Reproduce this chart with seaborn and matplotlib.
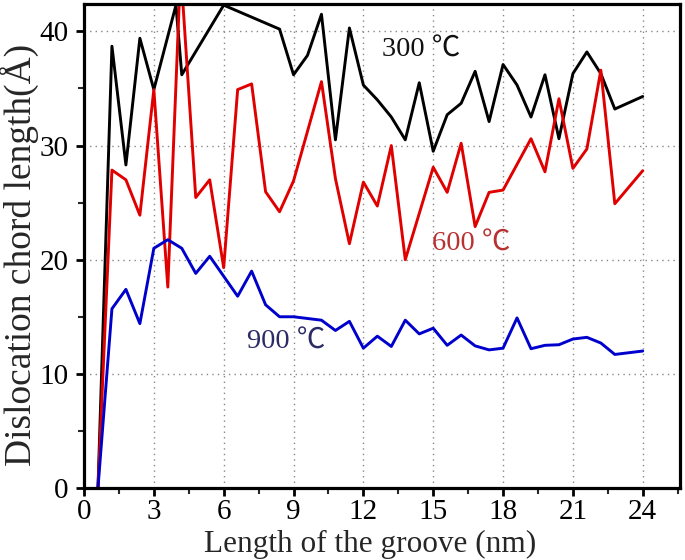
import matplotlib
matplotlib.use("Agg")
import matplotlib.pyplot as plt
import seaborn as sns
from matplotlib.ticker import MultipleLocator

# ---- data ----
x_300 = [0.6, 1.2, 1.8, 2.4, 3.0, 3.95, 4.2, 6.0, 8.4, 9.0, 9.6, 10.2, 10.8, 11.4,
         12.0, 12.6, 13.2, 13.8, 14.4, 15.0, 15.6, 16.2, 16.8, 17.4, 18.0, 18.6,
         19.2, 19.8, 20.4, 21.0, 21.6, 22.2, 22.8, 24.0]
y_300 = [0.0, 38.7, 28.3, 39.4, 34.9, 42.3, 36.2, 42.3, 40.2, 36.2, 37.9, 41.5, 30.5, 40.3,
         35.3, 34.0, 32.5, 30.5, 35.5, 29.5, 32.7, 33.7, 36.5, 32.1, 37.1, 35.3,
         32.5, 36.2, 30.6, 36.3, 38.2, 36.3, 33.2, 34.3]

x_600 = [0.6, 1.2, 1.8, 2.4, 3.0, 3.6, 4.15, 4.8, 5.4, 6.0, 6.6, 7.2, 7.8, 8.4, 9.0,
         10.2, 10.8, 11.4, 12.0, 12.6, 13.2, 13.8, 15.0, 15.6, 16.2, 16.8, 17.4,
         18.0, 19.2, 19.8, 20.4, 21.0, 21.6, 22.2, 22.8, 24.0]
y_600 = [0.0, 27.85, 27.0, 23.9, 34.9, 17.6, 45.5, 25.45, 27.0, 19.3, 34.9, 35.4, 25.95, 24.2, 26.9,
         35.6, 27.1, 21.4, 26.8, 24.7, 30.0, 20.0, 28.1, 25.9, 30.2, 22.9, 25.9,
         26.1, 30.6, 27.7, 34.1, 28.0, 29.7, 36.6, 24.9, 27.8]

x_900 = [0.6, 1.2, 1.8, 2.4, 3.0, 3.6, 4.2, 4.8, 5.4, 6.6, 7.2, 7.8, 8.4, 9.0,
         10.2, 10.8, 11.4, 12.0, 12.6, 13.2, 13.8, 14.4, 15.0, 15.6, 16.2, 16.8,
         17.4, 18.0, 18.6, 19.2, 19.8, 20.4, 21.0, 21.6, 22.2, 22.8, 24.0]
y_900 = [0.0, 15.7, 17.4, 14.4, 21.0, 21.75, 21.0, 18.8, 20.3, 16.8, 19.0, 16.05, 15.0, 15.0,
         14.7, 13.8, 14.6, 12.25, 13.3, 12.4, 14.7, 13.5, 14.0, 12.5, 13.4, 12.45,
         12.1, 12.25, 14.9, 12.2, 12.5, 12.55, 13.05, 13.2, 12.7, 11.7, 12.0]

x_ticks = [0, 3, 6, 9, 12, 15, 18, 21, 24]
y_ticks = [0, 10, 20, 30, 40]
x_label = "Length of the groove (nm)"
y_label = "Dislocation chord length(Å)"
labels = ["300 ℃", "600 ℃", "900 ℃"]

# ---- plot ----
sns.set_style("white")
serif = ["Liberation Serif", "Noto Sans CJK SC", "DejaVu Serif"]
plt.rcParams["font.family"] = serif

fig = plt.figure(figsize=(6.85, 5.6), dpi=100)
ax = fig.add_axes([84 / 685, 1 - 488 / 560, (680 - 84) / 685, (488 - 4) / 560])

lw = 2.1
sns.lineplot(x=x_300, y=y_300, ax=ax, color="black", lw=lw, sort=False, estimator=None)
sns.lineplot(x=x_600, y=y_600, ax=ax, color="#e00000", lw=lw, sort=False, estimator=None)
sns.lineplot(x=x_900, y=y_900, ax=ax, color="#0000cc", lw=lw, sort=False, estimator=None)

ax.set_xlim(0, 25.6)
ax.set_ylim(0, 42.4)
ax.set_xticks(x_ticks)
ax.set_yticks(y_ticks)
ax.xaxis.set_minor_locator(MultipleLocator(1.5))
ax.yaxis.set_minor_locator(MultipleLocator(5))
ax.grid(True, which="major", linestyle=(0, (1, 3)), color="#888888", lw=1.0)
for s in ax.spines.values():
    s.set_visible(True)
    s.set_color("black")
    s.set_linewidth(2.3)
ax.tick_params(axis="both", which="major", direction="out", length=6, width=2,
               labelsize=21, colors="black", pad=2)
ax.tick_params(axis="y", which="major", pad=5)
ax.tick_params(axis="both", which="minor", direction="out", length=4, width=1.5)
ax.tick_params(axis="x", which="both", bottom=True)
ax.tick_params(axis="y", which="both", left=True)

ax.set_xlabel(x_label, fontsize=22.5)
ax.xaxis.set_label_coords((370 - 84) / 596, -0.086)
ax.set_ylabel(y_label, fontsize=27, va="center")
ax.yaxis.set_label_coords((19 - 84) / 596, (488 - 255) / 484)

ax.text(14.46, 38.4, labels[0], fontsize=20.5, color="#111111", ha="center", va="center")
ax.text(16.65, 21.4, labels[1], fontsize=20.5, color="#b83232", ha="center", va="center")
ax.text(8.7, 12.8, labels[2], fontsize=20.5, color="#2b2b66", ha="center", va="center")

fig.savefig("out.png", dpi=100)
